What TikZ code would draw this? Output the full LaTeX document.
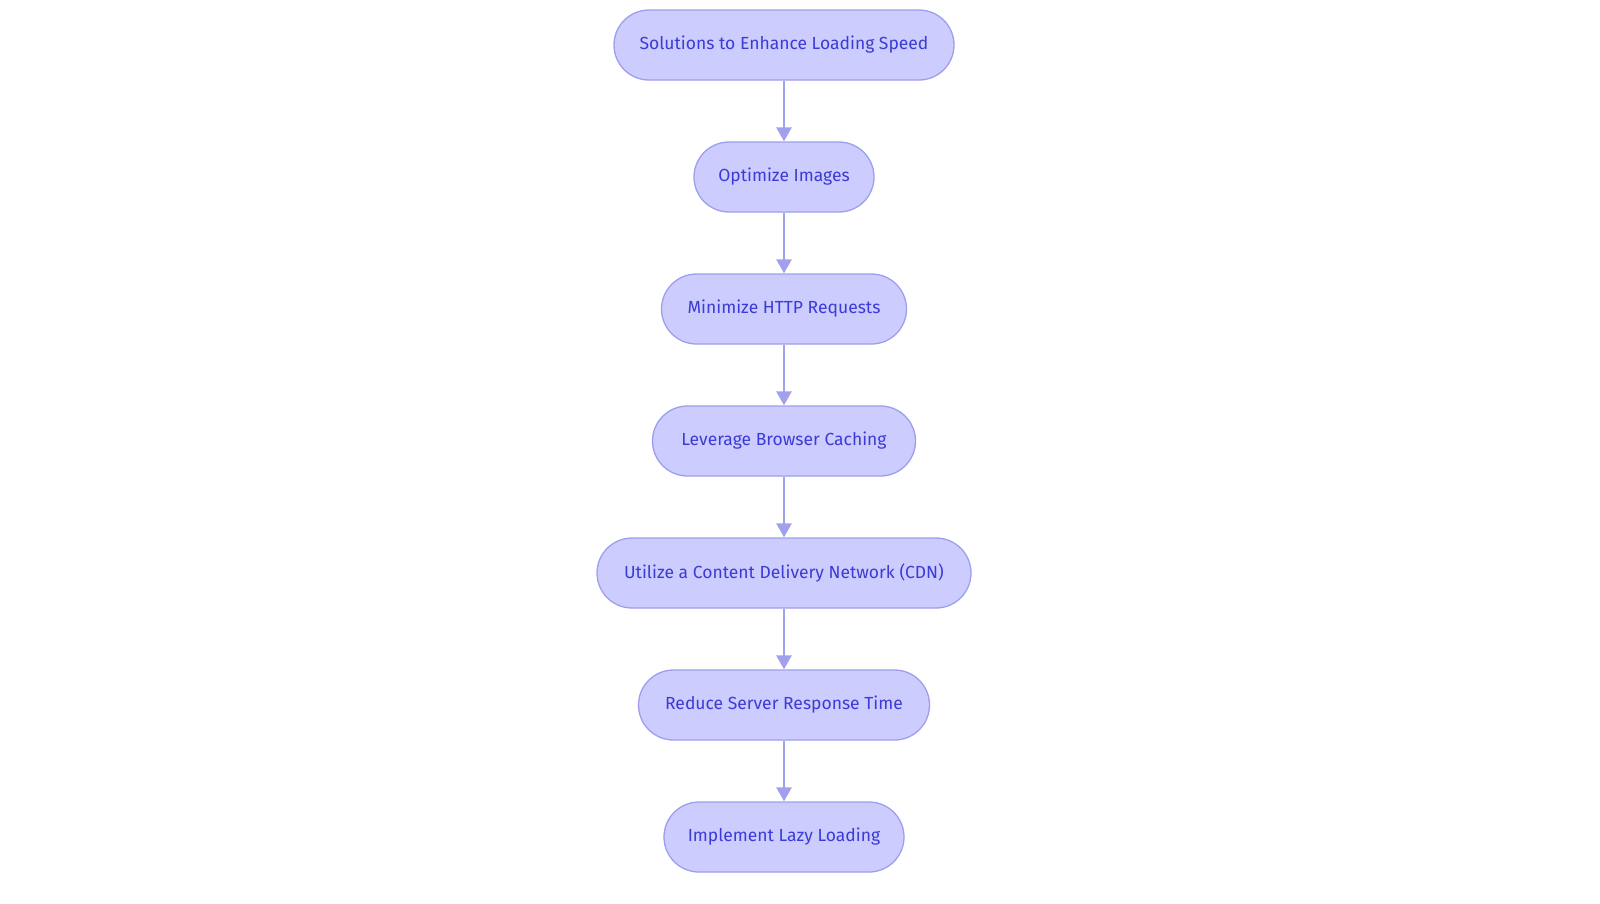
\documentclass[tikz,border=0pt]{standalone}
\usepackage{fontspec}
\setmainfont{Fira Sans}
\usetikzlibrary{arrows.meta}
\definecolor{nodefill}{HTML}{CCCCFF}
\definecolor{nodeline}{HTML}{9E9EEE}
\definecolor{nodetext}{HTML}{3B3BD6}
\definecolor{arrowline}{HTML}{A0A0EC}
\begin{document}
\begin{tikzpicture}[x=1pt, y=-1pt, main node/.style={rectangle, rounded corners=35pt, draw=nodeline, line width=1.3pt, fill=nodefill, text=nodetext, minimum height=70pt, inner sep=0pt, font=\fontsize{17.5}{21}\selectfont}, flow/.style={draw=arrowline, line width=2.6pt, -{Triangle[length=14pt,width=15pt,fill=arrowline]}}]
\useasboundingbox (0,0) rectangle (1600,903);
\node [main node, minimum width=340pt](s0) at (784,45) {Solutions to Enhance Loading Speed};
\node [main node, minimum width=180pt](s1) at (784,177) {Optimize Images};
\node [main node, minimum width=245pt](s2) at (784,309) {Minimize HTTP Requests};
\node [main node, minimum width=263pt](s3) at (784,441) {Leverage Browser Caching};
\node [main node, minimum width=374pt](s4) at (784,573) {Utilize a Content Delivery Network (CDN)};
\node [main node, minimum width=291pt](s5) at (784,705) {Reduce Server Response Time};
\node [main node, minimum width=240pt](s6) at (784,837) {Implement Lazy Loading};
\path
	(s0) edge [flow] (s1)
	(s1) edge [flow] (s2)
	(s2) edge [flow] (s3)
	(s3) edge [flow] (s4)
	(s4) edge [flow] (s5)
	(s5) edge [flow] (s6)
	;
\end{tikzpicture}
\end{document}
